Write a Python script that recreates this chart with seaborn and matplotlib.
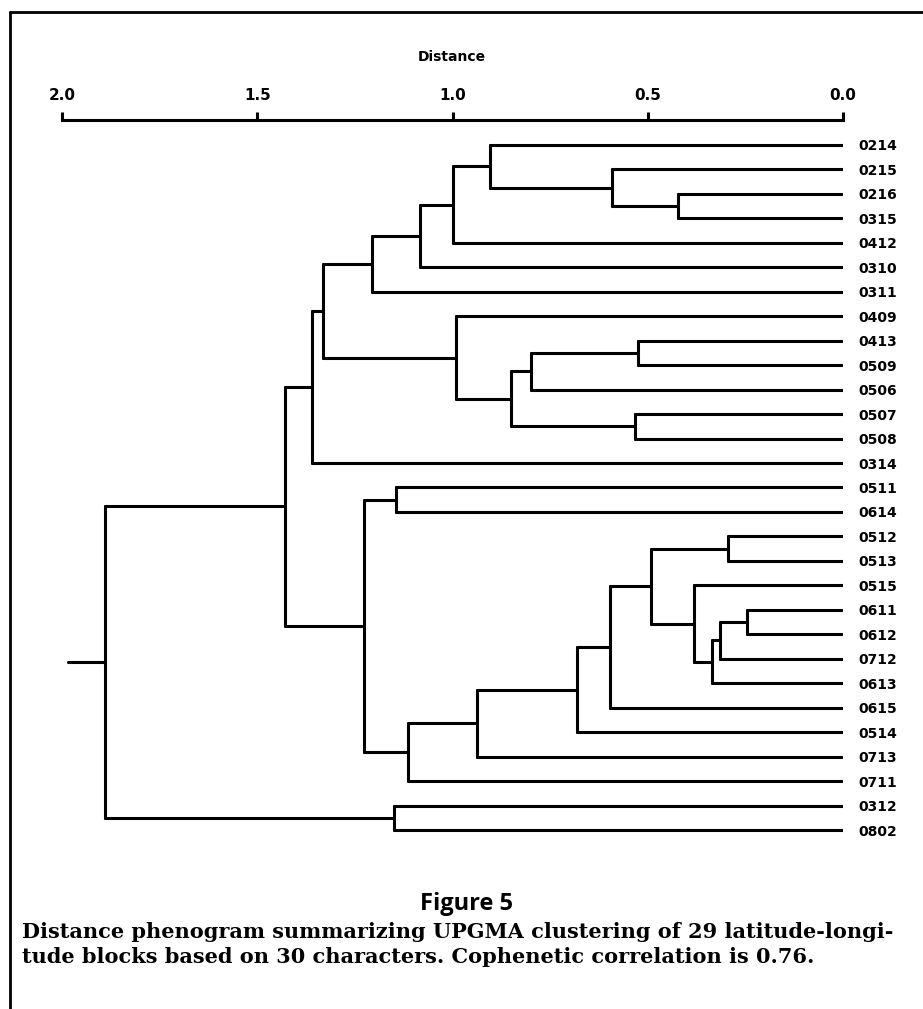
import numpy as np
import pandas as pd
import matplotlib.pyplot as plt
import seaborn as sns
from matplotlib.lines import Line2D

# %%
# Dados: folhas (ordem no fenograma) e fusoes UPGMA (filho a, filho b, distancia)

leaves = ['0214', '0215', '0216', '0315', '0412', '0310', '0311', '0409',
          '0413', '0509', '0506', '0507', '0508', '0314', '0511', '0614',
          '0512', '0513', '0515', '0611', '0612', '0712', '0613', '0615',
          '0514', '0713', '0711', '0312', '0802']

merge_a = ['0216', '0215', '0214', 'n2', 'n3', 'n4', '0413', 'n6', '0507',
           'n7', '0409', 'n5', 'n11', '0511', '0512', '0611', 'n15', 'n16',
           '0515', 'n14', 'n19', 'n20', 'n21', 'n22', 'n13', 'n12', '0312',
           'n25']
merge_b = ['0315', 'n0', 'n1', '0412', '0310', '0311', '0509', '0506', '0508',
           'n8', 'n9', 'n10', '0314', '0614', '0513', '0612', '0712', '0613',
           'n17', 'n18', '0615', '0514', '0713', '0711', 'n23', 'n24', '0802',
           'n26']
merge_h = [0.423, 0.592, 0.905, 1.000, 1.082, 1.205, 0.526, 0.800, 0.533,
           0.851, 0.992, 1.331, 1.359, 1.144, 0.295, 0.246, 0.315, 0.336,
           0.382, 0.492, 0.597, 0.682, 0.938, 1.113, 1.226, 1.428, 1.151,
           1.890]
root_stub = 1.985

x_ticks = [2.0, 1.5, 1.0, 0.5, 0.0]

caption_1 = "Distance phenogram summarizing UPGMA clustering of 29 latitude-longi-"
caption_2 = "tude blocks based on 30 characters. Cophenetic correlation is 0.76."

# %%
# Montando os segmentos do dendrograma

pos = {leaf: (0.0, i) for i, leaf in enumerate(leaves)}
rows = []
seg = 0
for k, (a, b, h) in enumerate(zip(merge_a, merge_b, merge_h)):
    for c in (a, b):
        cx, cy = pos[c]
        rows += [(seg, cx, cy), (seg, h, cy)]
        seg += 1
    ya, yb = pos[a][1], pos[b][1]
    rows += [(seg, h, ya), (seg, h, yb)]
    seg += 1
    pos[f'n{k}'] = (h, (ya + yb) / 2)

root_x, root_y = pos[f'n{len(merge_h) - 1}']
rows += [(seg, root_x, root_y), (seg, root_stub, root_y)]

df_seg = pd.DataFrame(rows, columns=['seg', 'x', 'y'])

# %%
# Grafico

sns.set_style("white")
plt.rcParams['font.family'] = ['DejaVu Sans']
plt.rcParams['text.color'] = 'black'
plt.rcParams['xtick.color'] = 'black'
plt.rcParams['ytick.color'] = 'black'

W, H = 923, 1009
fig = plt.figure(figsize=(W / 100, H / 100), dpi=100)
ax = fig.add_axes([62 / W, 1 - 854 / H, (843 - 62) / W, (854 - 120) / H])

sns.lineplot(data=df_seg, x='x', y='y', units='seg', estimator=None,
             sort=False, color='black', linewidth=2.2, legend=False, ax=ax)

ax.set_xlim(2.0, 0.0)
ax.set_ylim(28.98, -1.02)
ax.set_xlabel("")
ax.set_ylabel("")

for s in ['left', 'right', 'bottom']:
    ax.spines[s].set_visible(False)
ax.spines['top'].set_linewidth(2.2)
ax.spines['top'].set_color('black')

ax.xaxis.tick_top()
ax.set_xticks(x_ticks)
ax.set_xticklabels([f"{t:.1f}" for t in x_ticks], fontsize=11,
                   fontweight='bold', color='black')
ax.tick_params(axis='x', direction='out', length=6, width=2.2, pad=6,
               colors='black')

ax.yaxis.tick_right()
ax.set_yticks(range(len(leaves)))
ax.set_yticklabels(leaves, fontsize=10, fontweight='bold', color='black')
ax.tick_params(axis='y', length=0, pad=11)

fig.text(452 / W, 1 - 57 / H, "Distance", ha='center', va='center',
         fontsize=10, fontweight='bold', color='black')

# Legenda da figura
fig.text(466 / W, 1 - 904 / H, "Figure 5", ha='center', va='center',
         fontsize=17, fontweight='bold', family='Open Sans', color='black')
fig.text(22 / W, 1 - 932 / H, caption_1, ha='left', va='center',
         fontsize=15, fontweight='bold', family='DejaVu Serif', color='black')
fig.text(22 / W, 1 - 957 / H, caption_2, ha='left', va='center',
         fontsize=15, fontweight='bold', family='DejaVu Serif', color='black')

# Moldura da pagina
fig.add_artist(Line2D([10 / W, 1.0], [1 - 12 / H, 1 - 12 / H],
                      transform=fig.transFigure, color='black', linewidth=2))
fig.add_artist(Line2D([10 / W, 10 / W], [1 - 12 / H, 0.0],
                      transform=fig.transFigure, color='black', linewidth=2))

fig.savefig("out.png", dpi=100)
plt.close(fig)
